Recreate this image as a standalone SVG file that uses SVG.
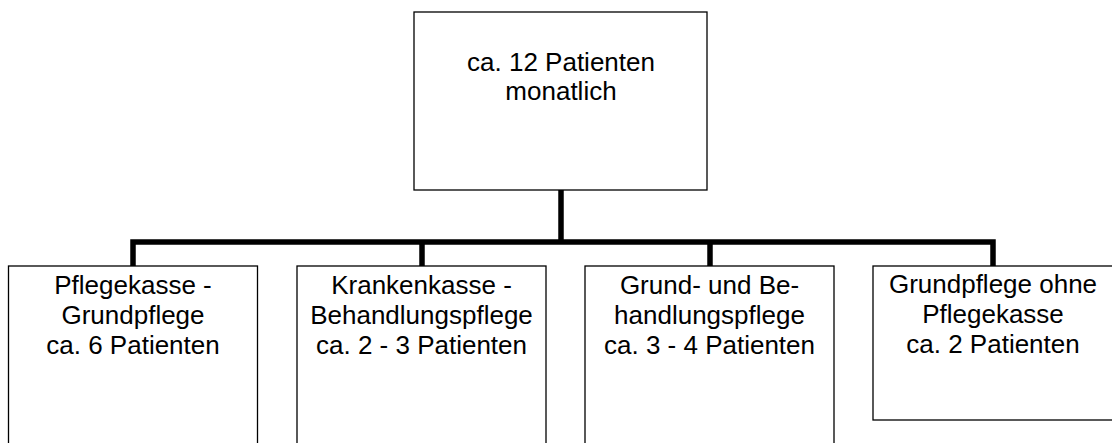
<svg xmlns="http://www.w3.org/2000/svg" width="1112" height="443" viewBox="0 0 1112 443">
<style>
.box{fill:#fff;stroke:#000;stroke-width:1.3}
.lbl{font-family:"Liberation Sans",Arial,sans-serif;font-size:26px;fill:#000;text-anchor:middle}
.conn{stroke:#000;stroke-width:5.5;fill:none;stroke-linejoin:miter}
</style>
<rect width="1112" height="443" fill="#fff"/>
<g id="connectors">
<path class="conn" d="M561,190 V242"/>
<path class="conn" d="M133,266 V242 H993 V266"/>
<path class="conn" d="M422,242 V266"/>
<path class="conn" d="M710,242 V266"/>
</g>
<g id="top">
<rect class="box" x="414" y="12" width="293" height="178"/>
<text class="lbl" x="561" y="71">ca. 12 Patienten</text>
<text class="lbl" x="561" y="100">monatlich</text>
</g>
<g id="n1">
<rect class="box" x="8.5" y="266" width="249" height="190"/>
<text class="lbl" x="133" y="294">Pflegekasse -</text>
<text class="lbl" x="133" y="324">Grundpflege</text>
<text class="lbl" x="133" y="354">ca. 6 Patienten</text>
</g>
<g id="n2">
<rect class="box" x="297" y="266" width="249" height="190"/>
<text class="lbl" x="421.5" y="294">Krankenkasse -</text>
<text class="lbl" x="421.5" y="324">Behandlungspflege</text>
<text class="lbl" x="421.5" y="354">ca. 2 - 3 Patienten</text>
</g>
<g id="n3">
<rect class="box" x="585" y="266" width="249" height="190"/>
<text class="lbl" x="709.5" y="294">Grund- und Be-</text>
<text class="lbl" x="709.5" y="324">handlungspflege</text>
<text class="lbl" x="709.5" y="354">ca. 3 - 4 Patienten</text>
</g>
<g id="n4">
<rect class="box" x="873" y="266" width="245" height="154"/>
<text class="lbl" x="993" y="293">Grundpflege ohne</text>
<text class="lbl" x="993" y="323">Pflegekasse</text>
<text class="lbl" x="993" y="353">ca. 2 Patienten</text>
</g>
</svg>
